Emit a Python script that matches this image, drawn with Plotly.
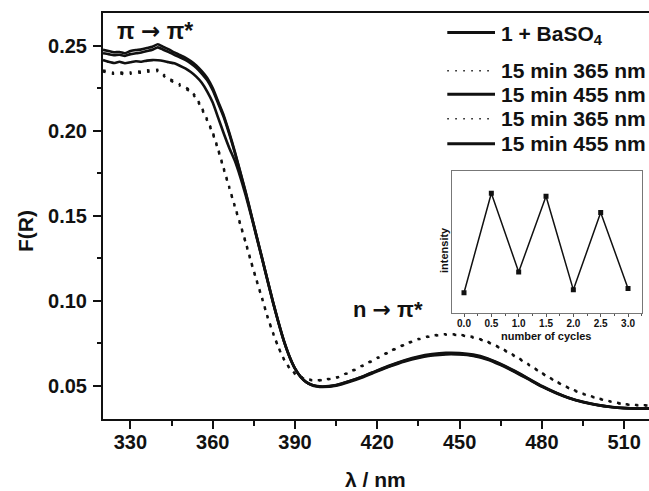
import plotly.graph_objects as go

# ---------------- data ----------------
wavelength = [320, 322, 324, 326, 328, 330, 332, 334, 336, 338, 340, 342, 344, 346, 348,
              350, 352, 354, 356, 358, 360, 362, 364, 366, 368, 370, 372, 374, 376, 378,
              380, 382, 384, 386, 388, 390, 392, 394, 396, 398, 400,
              405, 410, 415, 420, 425, 430, 435, 440, 445, 450, 455, 460, 465, 470, 475,
              480, 485, 490, 495, 500, 505, 510, 515, 520]

baso4 = [.2475, .2468, .2461, .2463, .2455, .2468, .2474, .2478, .2486, .2494, .2508, .2492, .2478, .2460, .2445,
         .2430, .2410, .2384, .2350, .2310, .2250, .2170, .2090, .1990, .1880, .1760, .1640, .1510, .1380, .1250,
         .1120, .0990, .0870, .0760, .0670, .0600, .0553, .0522, .0505, .0497, .0494,
         .0503, .0527, .0556, .0590, .0622, .0650, .0672, .0686, .0693, .0692, .0683, .0662, .0628, .0588, .0543,
         .0498, .0460, .0428, .0405, .0388, .0376, .0369, .0366, .0366]

irr365_a = [.2355, .2348, .2340, .2345, .2336, .2342, .2350, .2347, .2355, .2352, .2358, .2330, .2306, .2290, .2272,
            .2255, .2235, .2195, .2135, .2065, .1990, .1890, .1780, .1670, .1560, .1455, .1345, .1230, .1120, .1015,
            .0905, .0810, .0725, .0655, .0605, .0572, .0552, .0540, .0534, .0532, .0535,
            .0548, .0582, .0622, .0664, .0706, .0744, .0775, .0795, .0803, .0800, .0786, .0760, .0722, .0677, .0627,
            .0575, .0527, .0486, .0453, .0428, .0408, .0392, .0386, .0385]

irr455_a = [.2455, .2450, .2444, .2446, .2440, .2450, .2455, .2460, .2468, .2476, .2490, .2476, .2462, .2446, .2432,
            .2416, .2396, .2370, .2336, .2296, .2238, .2160, .2080, .1982, .1874, .1756, .1636, .1508, .1378, .1250,
            .1120, .0992, .0872, .0762, .0672, .0602, .0554, .0522, .0504, .0495, .0492,
            .0500, .0523, .0551, .0584, .0615, .0642, .0663, .0677, .0684, .0683, .0674, .0654, .0621, .0582, .0538,
            .0494, .0457, .0426, .0403, .0386, .0375, .0368, .0365, .0365]

irr365_b = [.2348, .2341, .2334, .2338, .2330, .2335, .2343, .2340, .2348, .2345, .2350, .2323, .2299, .2283, .2265,
            .2248, .2228, .2188, .2128, .2058, .1983, .1884, .1774, .1665, .1555, .1450, .1341, .1226, .1117, .1012,
            .0902, .0808, .0723, .0653, .0603, .0570, .0550, .0538, .0532, .0530, .0533,
            .0546, .0579, .0619, .0661, .0703, .0741, .0772, .0792, .0800, .0797, .0783, .0757, .0719, .0674, .0624,
            .0573, .0525, .0484, .0451, .0426, .0406, .0390, .0384, .0383]

irr455_b = [.2415, .2405, .2398, .2405, .2396, .2402, .2408, .2405, .2412, .2415, .2414, .2410, .2402, .2396, .2382,
            .2366, .2345, .2318, .2282, .2230, .2165, .2075, .1985, .1900, .1825, .1730, .1620, .1500, .1372, .1245,
            .1115, .0987, .0868, .0759, .0669, .0600, .0552, .0522, .0506, .0498, .0495,
            .0504, .0528, .0556, .0588, .0619, .0646, .0667, .0681, .0688, .0687, .0678, .0658, .0625, .0585, .0541,
            .0496, .0459, .0427, .0404, .0387, .0375, .0368, .0366, .0366]

series_names = ["1 + BaSO<sub>4</sub>", "15 min 365 nm", "15 min 455 nm", "15 min 365 nm", "15 min 455 nm"]

cycles = [0.0, 0.5, 1.0, 1.5, 2.0, 2.5, 3.0]
intensity = [0.143, 0.843, 0.289, 0.822, 0.163, 0.708, 0.173]

x_ticks = [330, 360, 390, 420, 450, 480, 510]
y_ticks = [0.05, 0.10, 0.15, 0.20, 0.25]
inset_ticks = [0.0, 0.5, 1.0, 1.5, 2.0, 2.5, 3.0]

# ---------------- layout helpers (pixel -> paper) ----------------
W, H = 649, 491
L, R, T, B = 103, 649, 13, 419
def px(x):
    return (x - L) / (R - L)
def py(y):
    return (B - y) / (B - T)

FONT = "Liberation Sans"
INK = "#111111"
DOT = "2.5px,6.5px"

fig = go.Figure()

styles = [("solid", 2.6), (DOT, 2.4), ("solid", 2.6), (DOT, 2.4), ("solid", 2.6)]
all_series = [baso4, irr365_a, irr455_a, irr365_b, irr455_b]
for name, vals, (dash, w) in zip(series_names, all_series, styles):
    fig.add_trace(go.Scatter(x=wavelength, y=vals, mode="lines", name=name,
                             line=dict(color=INK, width=w, dash=dash, shape="spline", smoothing=0.5),
                             showlegend=False))

# inset
fig.add_trace(go.Scatter(x=cycles, y=intensity, mode="lines+markers", xaxis="x2", yaxis="y2",
                         line=dict(color=INK, width=1.5),
                         marker=dict(symbol="square", size=5, color=INK),
                         showlegend=False))

axis_common = dict(showline=True, linewidth=2, linecolor=INK, ticks="outside", ticklen=8,
                   tickwidth=2, tickcolor=INK, showgrid=False, zeroline=False,
                   tickfont=dict(family=FONT, size=20, color=INK, weight="bold"))

fig.update_layout(
    width=W, height=H,
    margin=dict(l=L, r=W - R, t=T, b=H - B),
    paper_bgcolor="white", plot_bgcolor="white",
    showlegend=False,
    xaxis=dict(range=[320, 519.05], tickvals=x_ticks, mirror=True, ticklabelstandoff=-4,
               minor=dict(dtick=15, tick0=315, ticklen=4.5, tickwidth=2, tickcolor=INK, ticks="outside"),
               **axis_common),
    yaxis=dict(range=[0.0304, 0.2692], tickvals=y_ticks, tickformat=".2f", ticklabelstandoff=2,
               minor=dict(dtick=0.025, tick0=0.025, ticklen=4.5, tickwidth=2, tickcolor=INK, ticks="outside"),
               **axis_common),
    xaxis2=dict(domain=[px(451.7), px(641.7)], anchor="y2", range=[-0.225, 3.25],
                tickvals=inset_ticks, tickformat=".1f", showline=True, mirror=True,
                linecolor="#777777", linewidth=1, ticks="outside", ticklen=3, tickwidth=1,
                tickcolor="#555555", showgrid=False, zeroline=False, ticklabelstandoff=-2,
                minor=dict(dtick=0.25, tick0=0, ticklen=2, tickwidth=1, tickcolor="#555555", ticks="outside"),
                tickfont=dict(family=FONT, size=10, color=INK, weight="bold")),
    yaxis2=dict(domain=[py(313), py(171)], anchor="x2", range=[0, 1], showticklabels=False,
                showline=True, mirror=True, linecolor="#777777", linewidth=1, ticks="",
                showgrid=False, zeroline=False),
)

ann = []
def text(x, y, s, size, anchor="center", angle=0):
    ann.append(dict(xref="paper", yref="paper", x=px(x), y=py(y), text=s, showarrow=False,
                    xanchor=anchor, yanchor="middle", textangle=angle,
                    font=dict(family=FONT, size=size, color=INK, weight="bold")))

ARROW = "<span style='font-family:DejaVu Sans'>→</span>"
text(25, 231, "F(R)", 21, angle=-90)
text(375, 479, "λ / nm", 21)
text(115, 31, "π " + ARROW + " π*", 23, anchor="left")
text(351, 309, "n " + ARROW + " π*", 22, anchor="left")
text(444, 250, "intensity", 11, angle=-90)
text(546, 336, "number of cycles", 11)

# legend drawn as layout items
rows = [32.5, 70.7, 94.3, 118.7, 143.7]
leg_dash = ["solid", "1.5px,6.5px", "solid", "1.5px,6.5px", "solid"]
leg_w = [3, 1.5, 3, 1.5, 3]
shapes = []
for r, nm, d, w in zip(rows, series_names, leg_dash, leg_w):
    shapes.append(dict(type="line", xref="paper", yref="paper", x0=px(447.3), x1=px(495),
                       y0=py(r), y1=py(r), line=dict(color=INK, width=w, dash=d)))
    yy = r + 3 if "sub" in nm else r
    text(499.3, yy, nm, 21, anchor="left")

fig.update_layout(annotations=ann, shapes=shapes)
fig.write_html("out.html", config={"displayModeBar": False},
               post_script="document.body.style.margin='0px';"
                           "document.documentElement.style.overflow='hidden';")
